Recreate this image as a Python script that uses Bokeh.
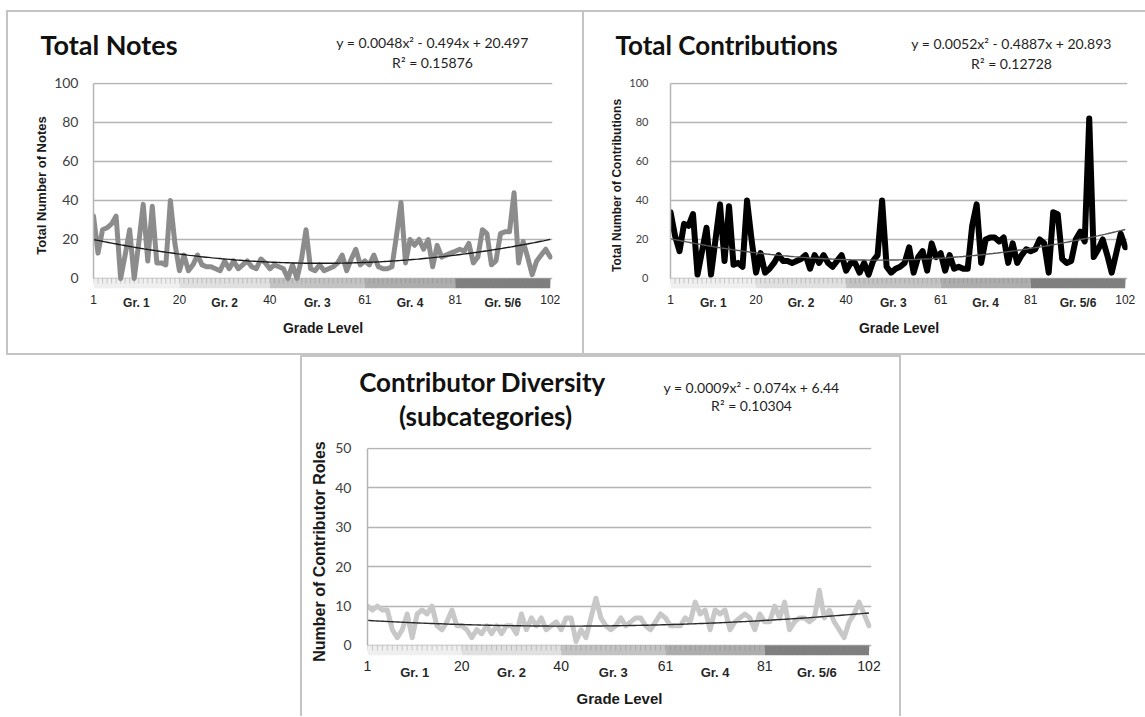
import numpy as np
from bokeh.plotting import figure
from bokeh.models import Range1d, FixedTicker, Label, LinearAxis, Spacer
from bokeh.layouts import column, row
from bokeh.embed import file_html
from bokeh.resources import INLINE

# ---- data -------------------------------------------------------------
grade = list(range(1, 103))

total_notes = [
    32, 13, 25, 26, 28, 32, 0, 12, 25, 0,
    18, 38, 9, 37, 8, 8, 7, 40, 18, 4,
    12, 4, 7, 12, 7, 6, 6, 5, 4, 9,
    5, 9, 5, 7, 9, 6, 5, 10, 8, 5,
    7, 6, 5, 0, 7, 0, 10, 25, 5, 4,
    7, 4, 5, 6, 8, 12, 4, 10, 15, 7,
    9, 7, 12, 6, 5, 5, 6, 22, 39, 8,
    20, 17, 20, 15, 20, 6, 17, 11, 12, 13,
    14, 15, 14, 18, 8, 11, 25, 23, 7, 9,
    23, 24, 24, 44, 8, 19, 11, 2, 9, 12,
    15, 11,
]

total_contributions = [
    34, 22, 14, 28, 27, 33, 2, 14, 26, 2,
    20, 38, 9, 37, 7, 8, 6, 40, 20, 3,
    13, 3, 5, 8, 12, 9, 9, 8, 9, 10,
    12, 5, 12, 8, 12, 8, 6, 9, 12, 4,
    8, 8, 3, 8, 2, 9, 12, 40, 6, 3,
    5, 6, 8, 16, 3, 11, 14, 4, 18, 11,
    13, 4, 12, 5, 6, 5, 5, 27, 38, 8,
    20, 21, 21, 19, 21, 8, 18, 8, 12, 15,
    14, 15, 20, 18, 3, 34, 33, 10, 8, 9,
    20, 24, 19, 82, 11, 15, 20, 12, 3, 13,
    23, 16,
]

contributor_roles = [
    10, 9, 10, 9, 9, 4, 2, 4, 8, 2,
    8, 9, 8, 10, 5, 4, 6, 9, 5, 5,
    4, 2, 4, 3, 5, 3, 5, 3, 5, 5,
    3, 8, 4, 7, 5, 7, 4, 5, 6, 4,
    7, 7, 1, 4, 2, 7, 12, 7, 5, 4,
    5, 7, 5, 6, 7, 7, 5, 4, 6, 8,
    7, 5, 5, 5, 7, 6, 11, 8, 9, 4,
    9, 8, 9, 4, 6, 7, 8, 7, 4, 8,
    6, 6, 10, 7, 11, 4, 6, 7, 7, 6,
    7, 14, 7, 9, 6, 4, 2, 6, 8, 11,
    8, 5,
]

grade_edges = [1, 20, 40, 61, 81, 102]
grade_names = ["Gr. 1", "Gr. 2", "Gr. 3", "Gr. 4", "Gr. 5/6"]

# quadratic trend coefficients (a, b, c) and R squared
notes_fit = (0.0048, -0.494, 20.497)
notes_r2 = "0.15876"
contrib_fit = (0.0052, -0.4887, 20.893)
contrib_r2 = "0.12728"
roles_fit = (0.0009, -0.074, 6.44)
roles_r2 = "0.10304"

# ---- styling ----------------------------------------------------------
BAND_COLORS = ["#efefef", "#e0e0e0", "#c3c3c3", "#adadad", "#7f7f7f"]
GRID_COLOR = "#b4b4b4"
BORDER = "#c4c4c4"
TITLE_FONT = "Lato"
EQ_FONT = "Lato"
SANS = "Liberation Sans"


def equation_text(fit):
    a, b, c = fit
    sb = "-" if b < 0 else "+"
    sc = "-" if c < 0 else "+"
    return f"y = {a:g}x\u00b2 {sb} {abs(b):g}x {sc} {abs(c):g}"


def shadow(*sides):
    parts = {"top": "inset 0 2px 0 0", "bottom": "inset 0 -2px 0 0",
             "left": "inset 2px 0 0 0", "right": "inset -2px 0 0 0"}
    return {"box-shadow": ", ".join(f"{parts[s]} {BORDER}" for s in sides)}


def build_header(width, height, fit, r2, title_lines, cfg):
    h = figure(width=width, height=height, output_backend="svg",
               toolbar_location=None, x_axis_type=None, y_axis_type=None,
               min_border=0, min_border_left=0, min_border_right=0,
               min_border_top=0, min_border_bottom=0, title=None)
    h.frame_align = False
    h.border_fill_color = None
    h.background_fill_color = None
    h.outline_line_color = None
    for (tx, ty, txt) in title_lines:
        h.add_layout(Label(x=tx, y=ty, x_units="screen", y_units="screen",
                           text=txt, text_font=TITLE_FONT,
                           text_font_style="bold",
                           text_font_size=cfg["title_size"],
                           text_color="#111111", text_align=cfg["title_align"],
                           text_baseline="middle"))
    ex, ey = cfg["eq_pos"]
    h.add_layout(Label(x=ex, y=ey, x_units="screen", y_units="screen",
                       text=equation_text(fit), text_font=EQ_FONT,
                       text_font_size="14px", text_color="#1f1f1f",
                       text_align="center", text_baseline="middle"))
    h.add_layout(Label(x=ex, y=ey - cfg["eq_gap"], x_units="screen",
                       y_units="screen", text=f"R\u00b2 = {r2}",
                       text_font=EQ_FONT, text_font_size="14px",
                       text_color="#1f1f1f", text_align="center",
                       text_baseline="middle"))
    return h


def build_chart(values, fit, ylabel, cfg):
    ymax = cfg["ymax"]
    band = cfg["band"]
    p = figure(
        width=cfg["width"], height=cfg["height"],
        output_backend="svg", toolbar_location=None,
        x_range=Range1d(1, 102.5),
        y_range=Range1d(-band, ymax + cfg["ypad"]),
        min_border_left=cfg["ml"], min_border_right=cfg["mr"],
        min_border_top=cfg["mt"], min_border_bottom=cfg["mb"],
        title=None,
    )
    p.frame_align = False
    p.border_fill_color = None
    p.background_fill_color = None
    p.outline_line_color = None
    p.xgrid.visible = False

    yticks = list(range(0, ymax + 1, cfg["ystep"]))
    p.yaxis.ticker = FixedTicker(ticks=yticks)
    p.ygrid.ticker = FixedTicker(ticks=yticks)
    p.ygrid.grid_line_color = GRID_COLOR
    p.ygrid.grid_line_width = 1.5

    ya = p.yaxis[0]
    ya.bounds = (0, ymax)
    ya.axis_line_color = GRID_COLOR
    ya.axis_line_width = 1.5
    ya.major_tick_line_color = None
    ya.minor_tick_line_color = None
    ya.major_tick_out = 0
    ya.major_tick_in = 0
    ya.minor_tick_out = 0
    ya.major_label_standoff = cfg["ystand"]
    ya.major_label_text_font = "Lato"
    ya.major_label_text_font_size = cfg["ytick_size"]
    ya.major_label_text_color = "#404040"
    ya.axis_label = ylabel
    ya.axis_label_standoff = cfg["ylab_stand"]
    ya.axis_label_text_font = SANS
    ya.axis_label_text_font_style = "bold"
    ya.axis_label_text_font_size = cfg["ylab_size"]
    ya.axis_label_text_color = "#1a1a1a"

    # numeric category ticks at the grade boundaries
    xa = p.xaxis[0]
    xa.ticker = FixedTicker(ticks=grade_edges)
    xa.axis_line_color = None
    xa.major_tick_line_color = None
    xa.minor_tick_line_color = None
    xa.major_tick_out = 0
    xa.major_tick_in = 0
    xa.minor_tick_out = 0
    xa.major_label_standoff = cfg["xstand"]
    xa.major_label_text_font = SANS
    xa.major_label_text_font_size = cfg["xtick_size"]
    xa.major_label_text_color = "#262626"

    # grade names centred in each band, with the axis title
    mids = [(lo + hi) / 2 for lo, hi in zip(grade_edges[:-1], grade_edges[1:])]
    ga = LinearAxis(ticker=FixedTicker(ticks=mids),
                    major_label_overrides={m: n for m, n in zip(mids, grade_names)})
    ga.axis_line_color = None
    ga.major_tick_line_color = None
    ga.minor_tick_line_color = None
    ga.major_tick_out = 0
    ga.major_tick_in = 0
    ga.minor_tick_out = 0
    ga.major_label_standoff = cfg["gr_stand"]
    ga.major_label_text_font = SANS
    ga.major_label_text_font_style = "bold"
    ga.major_label_text_font_size = cfg["gr_size"]
    ga.major_label_text_color = "#262626"
    ga.axis_label = "Grade Level"
    ga.axis_label_standoff = cfg["xlab_stand"]
    ga.axis_label_text_font = SANS
    ga.axis_label_text_font_style = "bold"
    ga.axis_label_text_font_size = cfg["xlab_size"]
    ga.axis_label_text_color = "#1a1a1a"
    p.add_layout(ga, "below")

    # grade-level bands under the category axis
    p.quad(left=grade_edges[:-1], right=grade_edges[1:], top=0, bottom=-band,
           fill_color=BAND_COLORS, line_color=None)
    p.segment(x0=grade, y0=[0] * len(grade), x1=grade,
              y1=[-band * 0.5] * len(grade),
              line_color="#7a7a7a", line_alpha=0.35, line_width=1)

    # series and quadratic trend line
    p.line(grade, values, line_width=cfg["lw"], line_color=cfg["color"],
           line_join="round", line_cap="round")
    a, b, c = fit
    xs = np.linspace(grade[0], grade[-1], 200)
    p.line(xs, a * xs ** 2 + b * xs + c, line_width=1.4,
           line_color=cfg["trend_color"])
    return p


top_chart = dict(ymax=100, ystep=20, band=5.13, ypad=0.5, height=280,
                 mt=7, mb=67, xstand=6, xtick_size="12px", gr_stand=-11,
                 gr_size="12px", xlab_stand=7, xlab_size="14px")

# Total Notes
h1 = build_header(578, 65, notes_fit, notes_r2, [(34, 31, "Total Notes")],
                  dict(title_size="27px", title_align="left",
                       eq_pos=(426, 33), eq_gap=20))
c1 = build_chart(total_notes, notes_fit, "Total Number of Notes",
                 dict(top_chart, width=578, ml=87, mr=32, ystand=15,
                      ytick_size="14px", ylab_stand=2, ylab_size="13px",
                      lw=5, color="#8c8c8c", trend_color="#1a1a1a"))
h1.styles = shadow("top", "left", "right")
c1.styles = shadow("bottom", "left", "right")

# Total Contributions
h2 = build_header(561, 65, contrib_fit, contrib_r2,
                  [(31, 31, "Total Contributions")],
                  dict(title_size="26px", title_align="left",
                       eq_pos=(427, 32), eq_gap=20))
c2 = build_chart(total_contributions, contrib_fit,
                 "Total Number of Contributions",
                 dict(top_chart, width=561, ml=86, mr=18, ystand=22,
                      ytick_size="11px", ylab_stand=2, ylab_size="12px",
                      lw=6, color="#000000", trend_color="#555555"))
h2.styles = shadow("top")
c2.styles = shadow("bottom")

# Contributor Diversity
h3 = build_header(601, 75, roles_fit, roles_r2,
                  [(182, 49, "Contributor Diversity"),
                   (185, 15, "(subcategories)")],
                  dict(title_size="26px", title_align="center",
                       eq_pos=(451, 43), eq_gap=18))
c3 = build_chart(contributor_roles, roles_fit, "Number of Contributor Roles",
                 dict(ymax=50, ystep=10, band=2.54, ypad=0.25, width=601,
                      height=286, ml=67, mr=30, mt=17, mb=61, xstand=5,
                      xtick_size="14px", gr_stand=-9, gr_size="13px",
                      xlab_stand=7, xlab_size="15px", ystand=16,
                      ytick_size="14px", ylab_stand=4, ylab_size="16px",
                      lw=5, color="#c8c8c8", trend_color="#2a2a2a"))
h3.styles = shadow("top", "left", "right")
c3.styles = shadow("left", "right")

layout = column(
    Spacer(height=10),
    row(Spacer(width=6), column(h1, c1), column(h2, c2)),
    row(Spacer(width=300), column(h3, c3)),
)

open("out.html", "w").write(file_html(layout, INLINE))
